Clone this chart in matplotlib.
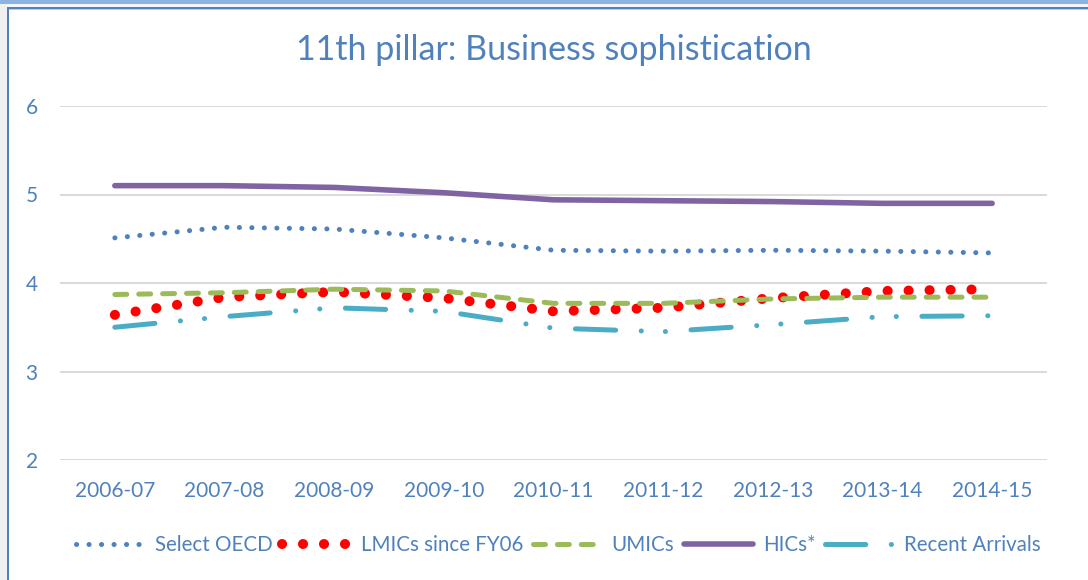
import matplotlib
matplotlib.use("Agg")
import matplotlib.pyplot as plt
from matplotlib.patches import Rectangle

# ---- data ----
years = ["2006-07", "2007-08", "2008-09", "2009-10", "2010-11",
         "2011-12", "2012-13", "2013-14", "2014-15"]
select_oecd = [4.51, 4.63, 4.61, 4.51, 4.37, 4.36, 4.37, 4.36, 4.34]
lmics = [3.64, 3.84, 3.90, 3.83, 3.68, 3.72, 3.83, 3.91, 3.93]
umics = [3.87, 3.89, 3.93, 3.91, 3.77, 3.77, 3.82, 3.84, 3.84]
hics = [5.10, 5.10, 5.08, 5.02, 4.94, 4.93, 4.92, 4.90, 4.90]
recent = [3.50, 3.62, 3.72, 3.68, 3.49, 3.45, 3.53, 3.62, 3.63]

TXT = "#4F81BD"
FONT = "Lato"
plt.rcParams["font.family"] = [FONT, "DejaVu Sans"]
plt.rcParams["lines.scale_dashes"] = False

fig = plt.figure(figsize=(10.88, 5.8), dpi=100, facecolor="white")

# ---- window chrome: top strip, grey margin, blue border ----
W, H = 1088, 580
def px_rect(x, y, w, h, color):
    fig.add_artist(Rectangle((x / W, 1 - (y + h) / H), w / W, h / H,
                             transform=fig.transFigure, color=color, lw=0, zorder=0))
px_rect(0, 0, W, 4, "#8DB4E2")
px_rect(0, 4, 7, H - 4, "#F0F0F0")
px_rect(7, 4, W - 7, 3, "#F4F6F9")
px_rect(7, 7, 2, H - 7, "#4F81BD")
px_rect(7, 7, W - 7, 2, "#4F81BD")
px_rect(9, 9, W - 9, 1, "#B9CDE5")

ax = fig.add_axes([60 / W, 1 - 460 / H, 987 / W, 354 / H])
ax.set_facecolor("none")

x = list(range(len(years)))
ax.plot(x, select_oecd, color="#4F81BD", lw=3.6, dashes=(0.1, 8.9),
        dash_capstyle="round", label="Select OECD", zorder=3)
ax.plot(x, lmics, color="#FF0000", lw=7.2, dashes=(0.1, 15.0),
        dash_capstyle="round", label="LMICs since FY06", zorder=3)
ax.plot(x, umics, color="#9BBB59", lw=3.6, dashes=(8.6, 8.6),
        dash_capstyle="round", label="UMICs", zorder=4)
ax.plot(x, hics, color="#8064A2", lw=4.0, solid_capstyle="round",
        label="HICs*", zorder=3)
ax.plot(x, recent, color="#4BACC6", lw=3.6,
        dashes=(29, 18.4, 0.1, 17.3, 0.1, 18.4),
        dash_capstyle="round", label="Recent Arrivals", zorder=3)

ax.set_xlim(-0.5, len(years) - 0.5)
ax.set_ylim(2, 6)
ax.set_yticks([2, 3, 4, 5, 6])
ax.set_xticks(x)
ax.set_xticklabels(years)
ax.grid(axis="y", color="#D9D9D9", lw=1.4)
ax.set_axisbelow(True)
for sp in ax.spines.values():
    sp.set_visible(False)
ax.tick_params(length=0, labelsize=15, labelcolor=TXT)
ax.tick_params(axis="y", pad=16)
ax.tick_params(axis="x", pad=15)

fig.text(554 / W, 1 - 50 / H, "11th pillar: Business sophistication",
         ha="center", va="center", fontsize=24.5, color=TXT)

ax.legend(loc="center", bbox_to_anchor=(558 / W, 1 - 545 / H),
          bbox_transform=fig.transFigure, ncol=5, frameon=False,
          fontsize=14.8, labelcolor=TXT, handlelength=3.4,
          handletextpad=0.45, columnspacing=0.45)

fig.savefig("out.png", dpi=100, facecolor="white")
